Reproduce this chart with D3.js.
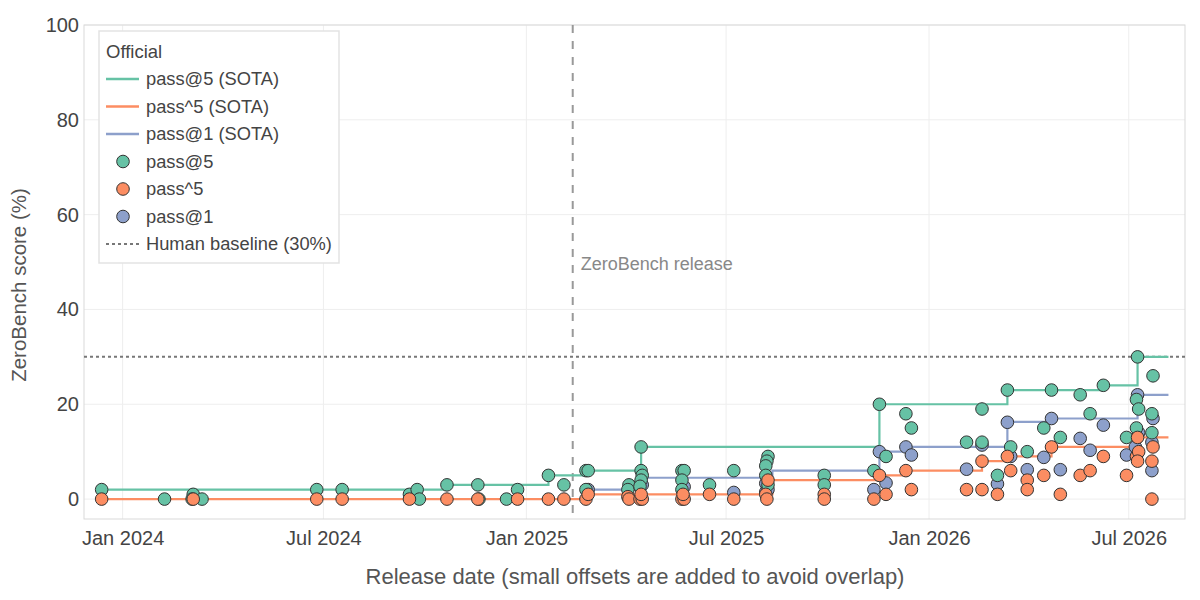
<!DOCTYPE html>
<html>
<head>
<meta charset="utf-8">
<script src="https://cdn.jsdelivr.net/npm/d3@7"></script>
<style>
  body { margin: 0; background: #fff; }
  text { font-family: "Liberation Sans", Arial, sans-serif; }
</style>
</head>
<body>
<div id="chart"></div>
<script>
// ---- data ----
const pass5Dates = ["2023-12-13","2024-02-08","2024-03-05","2024-03-04","2024-03-13","2024-06-25","2024-07-18","2024-09-17","2024-09-24","2024-09-26",
  "2024-10-21","2024-11-18","2024-11-19","2024-12-14","2024-12-24","2025-01-21","2025-02-04","2025-02-24","2025-02-26","2025-02-24",
  "2025-04-04","2025-04-03","2025-04-15","2025-04-15","2025-04-16","2025-04-15","2025-04-14","2025-05-22","2025-05-24","2025-05-22",
  "2025-05-22","2025-06-16","2025-07-08","2025-08-08","2025-08-07","2025-08-06","2025-08-06","2025-08-08","2025-09-28","2025-09-28",
  "2025-11-12","2025-11-17","2025-11-23","2025-12-11","2025-12-16","2026-02-04","2026-02-18","2026-02-18","2026-03-04","2026-03-13",
  "2026-03-16","2026-03-31","2026-04-15","2026-04-22","2026-04-30","2026-05-18","2026-05-27","2026-06-08","2026-06-29","2026-07-09",
  "2026-07-08","2026-07-10","2026-07-08","2026-07-23","2026-07-22","2026-07-22"];
const pass5Scores = [2,0,1,0,0,2,2,1,2,0,
  3,3,0,0,2,5,3,6,6,2,
  3,2,11,6,5,4,2.7,6,6,4,
  2,3,6,9,8,7,5,3,5,3,
  6,20,9,18,15,12,12,19,5,23,
  11,10,15,23,13,22,18,24,13,30,
  21,19,15,26,18,14];

const passHat5Dates = ["2023-12-13","2024-03-05","2024-06-25","2024-07-18","2024-09-17","2024-10-21","2024-11-18","2024-12-24","2025-01-21","2025-02-04",
  "2025-02-24","2025-02-26","2025-04-03","2025-04-04","2025-04-14","2025-04-16","2025-04-15","2025-05-22","2025-05-24","2025-05-23",
  "2025-06-16","2025-07-08","2025-08-08","2025-08-06","2025-08-07","2025-09-28","2025-09-28","2025-11-12","2025-11-17","2025-11-23",
  "2025-12-11","2025-12-16","2026-02-04","2026-02-18","2026-02-18","2026-03-04","2026-03-13","2026-03-16","2026-03-31","2026-03-31",
  "2026-04-15","2026-04-22","2026-04-30","2026-05-18","2026-05-27","2026-06-08","2026-06-29","2026-07-09","2026-07-08","2026-07-10",
  "2026-07-09","2026-07-23","2026-07-22","2026-07-22"];
const passHat5Scores = [0,0,0,0,0,0,0,0,0,0,
  0,1,0.5,0,0,0,1,0,0,1,
  1,0,4,1,0,1,0,0,5,1,
  6,2,2,8,2,1,9,6,4,2,
  5,11,1,5,6,9,5,13,9,10,
  8,11,8,0];

const pass1Dates = ["2025-02-26","2025-04-05","2025-04-16","2025-05-24","2025-07-08","2025-08-06","2025-08-06","2025-08-08","2025-11-12","2025-11-17",
  "2025-11-23","2025-12-11","2025-12-16","2026-02-04","2026-02-18","2026-03-04","2026-03-13","2026-03-16","2026-03-31","2026-04-15",
  "2026-04-22","2026-04-30","2026-05-18","2026-05-27","2026-06-08","2026-06-29","2026-07-09","2026-07-07","2026-07-10","2026-07-23",
  "2026-07-22","2026-07-22"];
const pass1Scores = [2,2.8,3,2.6,1.4,3.3,1.5,2,2,10,
  3.4,11,9.3,6.3,11.4,3.2,16.2,9,6.2,8.8,
  17,6.2,12.8,10.3,15.6,9.3,22,11,14,17,
  12,6];

// SOTA step lines
const sota5Dates = ["2023-12-13","2024-10-21","2025-01-21","2025-02-25","2025-04-15","2025-11-17","2026-03-13","2026-06-08","2026-07-09","2026-08-06"];
const sota5Scores = [2,3,5,6,11,20,23,24,30,30];
const sotaHat5Dates = ["2023-12-13","2025-02-26","2025-08-12","2025-11-17","2025-12-11","2026-02-18","2026-03-13","2026-04-22","2026-07-09","2026-08-06"];
const sotaHat5Scores = [0,1,4,5,6,8,9,11,13,13];
const sota1Dates = ["2025-02-26","2025-04-18","2025-08-12","2025-11-17","2025-12-11","2026-03-13","2026-04-22","2026-07-09","2026-08-06"];
const sota1Scores = [2,4.5,6,10,11,16.3,17,22,22];

const xTickDates = ["2024-01-01","2024-07-01","2025-01-01","2025-07-01","2026-01-01","2026-07-01"];
const yTicks = [0,20,40,60,80,100];
const releaseDate = "2025-02-12";
const humanBaseline = 30;

const legendItems = [
  {label: "pass@5 (SOTA)", kind: "line", color: "#66c2a5"},
  {label: "pass^5 (SOTA)", kind: "line", color: "#fc8d62"},
  {label: "pass@1 (SOTA)", kind: "line", color: "#8da0cb"},
  {label: "pass@5", kind: "dot", color: "#66c2a5"},
  {label: "pass^5", kind: "dot", color: "#fc8d62"},
  {label: "pass@1", kind: "dot", color: "#8da0cb"},
  {label: "Human baseline (30%)", kind: "dash", color: "#777"}
];

// ---- chart ----
const width = 1200;
const height = 600;
const margin = {top: 25, left: 84, right: 15, bottom: 81};
const parse = d3.timeParse("%Y-%m-%d");
const green = "#66c2a5", orange = "#fc8d62", blue = "#8da0cb";
const dotR = 6.3;

const svg = d3.select("#chart")
    .append("svg")
    .attr("width", width)
    .attr("height", height);

const xScale = d3.scaleTime()
    .domain([parse("2023-11-27"), parse("2026-08-21")])
    .range([margin.left, width - margin.right]);
const yScale = d3.scaleLinear()
    .domain([-4.2, 100])
    .range([height - margin.bottom, margin.top]);

// grid
svg.append("g")
    .selectAll("line")
    .data(xTickDates.map(parse))
    .enter()
    .append("line")
        .attr("x1", d => xScale(d)).attr("x2", d => xScale(d))
        .attr("y1", margin.top).attr("y2", height - margin.bottom)
        .attr("stroke", "#eeeeee");
svg.append("g")
    .selectAll("line")
    .data(yTicks)
    .enter()
    .append("line")
        .attr("x1", margin.left).attr("x2", width - margin.right)
        .attr("y1", d => yScale(d)).attr("y2", d => yScale(d))
        .attr("stroke", "#eeeeee");

// frame
svg.append("rect")
    .attr("x", margin.left)
    .attr("y", margin.top)
    .attr("width", width - margin.left - margin.right)
    .attr("height", height - margin.top - margin.bottom)
    .attr("fill", "none")
    .attr("stroke", "#d9d9d9");

// axes (ticks as text only)
const xAxis = svg.append("g")
    .attr("transform", `translate(0,${height - margin.bottom})`)
    .call(d3.axisBottom(xScale).tickValues(xTickDates.map(parse)).tickFormat(d3.timeFormat("%b %Y")).tickSize(0).tickPadding(12));
const yAxis = svg.append("g")
    .attr("transform", `translate(${margin.left},0)`)
    .call(d3.axisLeft(yScale).tickValues(yTicks).tickSize(0).tickPadding(5));
[xAxis, yAxis].forEach(a => {
    a.select(".domain").remove();
    a.selectAll("text")
        .attr("font-family", "Liberation Sans, Arial, sans-serif")
        .attr("font-size", 20)
        .attr("fill", "#444");
});

// axis titles
svg.append("text")
    .attr("x", 635)
    .attr("y", 584)
    .attr("text-anchor", "middle")
    .attr("font-size", 22)
    .attr("fill", "#555")
    .text("Release date (small offsets are added to avoid overlap)");
svg.append("text")
    .attr("transform", "rotate(-90)")
    .attr("x", -285)
    .attr("y", 26)
    .attr("text-anchor", "middle")
    .attr("font-size", 20.5)
    .attr("fill", "#555")
    .text("ZeroBench score (%)");

// human baseline
svg.append("line")
    .attr("x1", margin.left).attr("x2", width - margin.right)
    .attr("y1", yScale(humanBaseline)).attr("y2", yScale(humanBaseline))
    .attr("stroke", "#777")
    .attr("stroke-width", 2)
    .attr("stroke-dasharray", "3,3");

// release line
svg.append("line")
    .attr("x1", xScale(parse(releaseDate))).attr("x2", xScale(parse(releaseDate)))
    .attr("y1", margin.top).attr("y2", height - margin.bottom)
    .attr("stroke", "#999")
    .attr("stroke-width", 2)
    .attr("stroke-dasharray", "8,8");
svg.append("text")
    .attr("x", xScale(parse(releaseDate)) + 8)
    .attr("y", 270)
    .attr("font-size", 18)
    .attr("fill", "#888")
    .text("ZeroBench release");

// SOTA step lines
const stepLine = d3.line()
    .x(d => xScale(d.date))
    .y(d => yScale(d.score))
    .curve(d3.curveStepAfter);
function zipSeries(dates, scores) {
    return dates.map((d, i) => ({date: parse(d), score: scores[i]}));
}
[[sota1Dates, sota1Scores, blue], [sotaHat5Dates, sotaHat5Scores, orange], [sota5Dates, sota5Scores, green]].forEach(s => {
    svg.append("path")
        .datum(zipSeries(s[0], s[1]))
        .attr("d", stepLine)
        .attr("fill", "none")
        .attr("stroke", s[2])
        .attr("stroke-width", 2.2);
});

// points
[[pass1Dates, pass1Scores, blue], [pass5Dates, pass5Scores, green], [passHat5Dates, passHat5Scores, orange]].forEach(s => {
    svg.append("g")
        .selectAll("circle")
        .data(zipSeries(s[0], s[1]))
        .enter()
        .append("circle")
            .attr("cx", d => xScale(d.date))
            .attr("cy", d => yScale(d.score))
            .attr("r", dotR)
            .attr("fill", s[2])
            .attr("stroke", "#333")
            .attr("stroke-width", 1);
});

// legend
const legend = svg.append("g").attr("transform", "translate(99,31)");
legend.append("rect")
    .attr("width", 240)
    .attr("height", 232)
    .attr("fill", "#fff")
    .attr("stroke", "#e3e3e3")
    .attr("stroke-width", 1.5);
legend.append("text")
    .attr("x", 7)
    .attr("y", 27)
    .attr("font-size", 18.5)
    .attr("fill", "#444")
    .text("Official");
const rows = legend.selectAll(".row")
    .data(legendItems)
    .enter()
    .append("g")
    .attr("class", "row")
    .attr("transform", (d, i) => `translate(0,${48 + i * 27.5})`);
rows.filter(d => d.kind !== "dot").append("line")
    .attr("x1", 7).attr("x2", 40)
    .attr("stroke", d => d.color)
    .attr("stroke-width", d => d.kind === "dash" ? 2 : 2.5)
    .attr("stroke-dasharray", d => d.kind === "dash" ? "3,3" : null);
rows.filter(d => d.kind === "dot").append("circle")
    .attr("cx", 24)
    .attr("r", dotR)
    .attr("fill", d => d.color)
    .attr("stroke", "#333");
rows.append("text")
    .attr("x", 47)
    .attr("y", 6)
    .attr("font-size", 18.3)
    .attr("fill", "#444")
    .text(d => d.label);
</script>
</body>
</html>
